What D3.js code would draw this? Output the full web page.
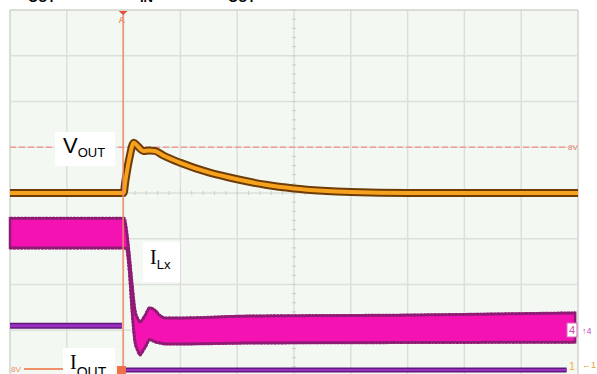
<!DOCTYPE html>
<html><head><meta charset="utf-8">
<script src="https://cdn.jsdelivr.net/npm/d3@7"></script>
<style>body{margin:0;background:#fff}svg{display:block}</style></head>
<body>
<svg id="c" width="597" height="374"></svg>
<script>
// Grid divisions (oscilloscope: 10 horizontal x 8 vertical)
const xDivs = d3.range(0, 11);
const yDivs = d3.range(-4, 5);
const minorX = d3.range(0, 10.01, 0.2);
const minorY = d3.range(-4, 4.01, 0.2);

// VOUT trace (time in divisions, level in divisions)
const voutT = [0, 2.0, 2.03, 2.1, 2.18, 2.25, 2.35, 2.45, 2.55, 2.7, 3.0, 3.5, 4.0, 4.5, 5.0, 5.5, 6.0, 7.0, 10];
const voutV = [0, 0, 0.25, 0.75, 1.1, 1.02, 0.92, 0.93, 0.92, 0.82, 0.66, 0.45, 0.3, 0.18, 0.1, 0.05, 0.02, 0, 0];

// ILx envelope (top / bottom of ripple band)
const ilxT   = [0, 2.01, 2.05, 2.1, 2.15, 2.2, 2.25, 2.29, 2.34, 2.38, 2.46, 2.55, 2.64, 2.73, 3.0, 4.2, 6.8, 9.95];
const ilxTop = [-0.55, -0.55, -0.8, -1.36, -2.0, -2.56, -2.75, -2.82, -2.75, -2.67, -2.51, -2.56, -2.68, -2.73, -2.73, -2.69, -2.67, -2.62];
const ilxBot = [-1.2, -1.2, -1.22, -1.7, -2.6, -3.25, -3.45, -3.54, -3.45, -3.37, -3.21, -3.25, -3.28, -3.3, -3.3, -3.28, -3.27, -3.26];

// IOUT traces
const ioutPreT = [0, 1.97];
const ioutPreV = [-2.9, -2.9];
const ioutPostT = [2.0, 9.8];
const ioutPostV = [-3.87, -3.87];

// Cursor / trigger
const cursorLevel = 1.0;
const triggerTime = 2.0;

const svg = d3.select("#c");
const x = d3.scaleLinear().domain([0, 10]).range([10, 578]);
const y = d3.scaleLinear().domain([-4, 4]).range([376, 10]);

// background
svg.append("rect").attr("x", 0).attr("y", 0).attr("width", 597).attr("height", 374).attr("fill", "#ffffff");
svg.append("rect").attr("x", x(0)).attr("y", y(4)).attr("width", x(10) - x(0)).attr("height", y(-4) - y(4)).attr("fill", "#f4f8f2");

// grid
const g = svg.append("g");
g.selectAll(".vx").data(xDivs).join("line")
  .attr("x1", d => x(d)).attr("x2", d => x(d)).attr("y1", y(4)).attr("y2", y(-4))
  .attr("stroke", d => (d === 0 || d === 10) ? "#cfd4cd" : "#dce0da").attr("stroke-width", 1.5);
g.selectAll(".hy").data(yDivs).join("line")
  .attr("x1", x(0)).attr("x2", x(10)).attr("y1", d => y(d)).attr("y2", d => y(d))
  .attr("stroke", d => (d === 4 || d === -4) ? "#cfd4cd" : "#dce0da").attr("stroke-width", 1.5);
// center minor ticks
g.selectAll(".mx").data(minorX).join("line")
  .attr("x1", d => x(d)).attr("x2", d => x(d)).attr("y1", y(0) - 2).attr("y2", y(0) + 2)
  .attr("stroke", "#c9cec7").attr("stroke-width", 1);
g.selectAll(".my").data(minorY).join("line")
  .attr("x1", x(5) - 2).attr("x2", x(5) + 2).attr("y1", d => y(d)).attr("y2", d => y(d))
  .attr("stroke", "#c9cec7").attr("stroke-width", 1);

// cursor dashed line
svg.append("line").attr("x1", x(0)).attr("x2", x(10) - 10).attr("y1", y(cursorLevel)).attr("y2", y(cursorLevel))
  .attr("stroke", "#f29a96").attr("stroke-width", 1.5).attr("stroke-dasharray", "6,3");
svg.append("text").attr("x", x(10) - 10).attr("y", y(cursorLevel) + 3).attr("font-family", "Liberation Sans")
  .attr("font-size", 8).attr("fill", "#e87a70").text("8V");

// VOUT
const voutPts = voutT.map((t, i) => [t, voutV[i]]);
const lineV = d3.line().x(d => x(d[0])).y(d => y(d[1])).curve(d3.curveMonotoneX);
svg.append("path").attr("d", lineV(voutPts)).attr("fill", "none").attr("stroke", "#6e3c08").attr("stroke-width", 8).attr("stroke-linejoin", "round");
svg.append("path").attr("d", lineV(voutPts)).attr("fill", "none").attr("stroke", "#f6a21c").attr("stroke-width", 4).attr("stroke-linejoin", "round");

// ILx band
const ilxPts = ilxT.map((t, i) => ({t, top: ilxTop[i], bot: ilxBot[i]}));
const area = d3.area().x(d => x(d.t)).y0(d => y(d.bot)).y1(d => y(d.top)).curve(d3.curveMonotoneX);
svg.append("path").attr("d", area(ilxPts)).attr("fill", "#f412b2").attr("stroke", "#8e1c74").attr("stroke-width", 2.5);
const topLine = d3.line().x(d => x(d.t)).y(d => y(d.top)).curve(d3.curveMonotoneX);
const botLine = d3.line().x(d => x(d.t)).y(d => y(d.bot)).curve(d3.curveMonotoneX);
svg.append("path").attr("d", topLine(ilxPts)).attr("fill", "none").attr("stroke", "#8e1c74").attr("stroke-width", 3).attr("stroke-dasharray", "3,1,2,1");
svg.append("path").attr("d", botLine(ilxPts)).attr("fill", "none").attr("stroke", "#8e1c74").attr("stroke-width", 3).attr("stroke-dasharray", "2,1,3,1");

// IOUT
const lineI = d3.line().x(d => x(d[0])).y(d => y(d[1]));
svg.append("path").attr("d", lineI(ioutPreT.map((t, i) => [t, ioutPreV[i]]))).attr("stroke", "#5e1a78").attr("stroke-width", 6).attr("fill", "none");
svg.append("path").attr("d", lineI(ioutPreT.map((t, i) => [t, ioutPreV[i]]))).attr("stroke", "#9b2fc0").attr("stroke-width", 3).attr("fill", "none");
svg.append("path").attr("d", lineI(ioutPostT.map((t, i) => [t, ioutPostV[i]]))).attr("stroke", "#5e1a78").attr("stroke-width", 5).attr("fill", "none");
svg.append("path").attr("d", lineI(ioutPostT.map((t, i) => [t, ioutPostV[i]]))).attr("stroke", "#9b2fc0").attr("stroke-width", 2).attr("fill", "none");

// trigger vertical line and marker
svg.append("line").attr("x1", x(triggerTime) - 0.5).attr("x2", x(triggerTime) - 0.5).attr("y1", 13).attr("y2", 374)
  .attr("stroke", "#ef8e68").attr("stroke-width", 1.6).attr("opacity", 0.9);
svg.append("path").attr("d", `M${x(triggerTime) - 5},${y(4) + 1}L${x(triggerTime) + 4},${y(4) + 1}L${x(triggerTime) - 0.5},${y(4) + 5}Z`).attr("fill", "#e0503c");
svg.append("text").attr("x", x(triggerTime) - 5).attr("y", 23).attr("font-family", "Liberation Sans").attr("font-size", 9).attr("font-weight", "bold").attr("fill", "#ef8e68").text("A");

// left bottom reference
svg.append("line").attr("x1", 24).attr("x2", 63).attr("y1", 369).attr("y2", 369).attr("stroke", "#f0906a").attr("stroke-width", 2);
svg.append("text").attr("x", 11).attr("y", 372).attr("font-family", "Liberation Sans").attr("font-size", 8).attr("fill", "#f0906a").text("8V");
svg.append("rect").attr("x", 117).attr("y", 366).attr("width", 9).attr("height", 8).attr("fill", "#f07048");

// channel boxes on the right
svg.append("rect").attr("x", 567).attr("y", 323).attr("width", 10).attr("height", 14).attr("fill", "#fff").attr("stroke", "#e066c0").attr("stroke-width", 1);
svg.append("text").attr("x", 569).attr("y", 334).attr("font-family", "Liberation Sans").attr("font-size", 11).attr("fill", "#d04aa8").text("4");
svg.append("text").attr("x", 582).attr("y", 334).attr("font-family", "Liberation Sans").attr("font-size", 9).attr("fill", "#c050c0").text("↑4");
svg.append("text").attr("x", 569).attr("y", 370).attr("font-family", "Liberation Sans").attr("font-size", 11).attr("fill", "#f0b040").text("1");
svg.append("text").attr("x", 582).attr("y", 368).attr("font-family", "Liberation Sans").attr("font-size", 9).attr("fill", "#e0a040").text("←1");

// trace labels
function label(bx, by, bw, bh, main, sub, tx, ty, mainFont, mainSize, subSize, subDy) {
  svg.append("rect").attr("x", bx).attr("y", by).attr("width", bw).attr("height", bh).attr("fill", "#ffffff");
  const t = svg.append("text").attr("x", tx).attr("y", ty).attr("fill", "#000");
  t.append("tspan").attr("font-family", mainFont).attr("font-size", mainSize).text(main);
  t.append("tspan").attr("font-family", "Liberation Sans").attr("font-size", subSize).attr("dy", subDy).text(sub);
}
label(55, 132, 60, 34, "V", "OUT", 63, 153, "Liberation Sans", 22, 13, 4);
label(143, 242, 37, 40, "I", "Lx", 150, 264, "Liberation Serif", 20, 13, 5);
label(63, 348, 52, 30, "I", "OUT", 70, 369, "Liberation Serif", 20, 14, 8);

// clipped title text at the very top
const title = [["OUT", 28], ["IN", 140], ["OUT", 228]];
svg.selectAll(".tt").data(title).join("text").attr("x", d => d[1]).attr("y", 2)
  .attr("font-family", "Liberation Sans").attr("font-weight", "bold").attr("font-size", 13).attr("fill", "#000").text(d => d[0]);
</script>
</body></html>
